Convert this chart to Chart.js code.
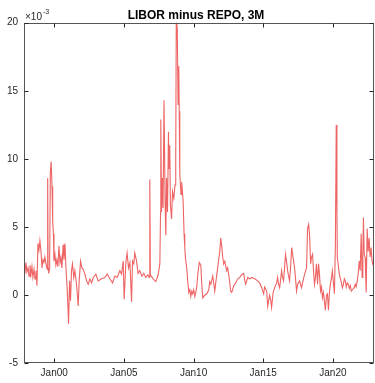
<!DOCTYPE html>
<html>
<head>
<meta charset="utf-8">
<script src="https://cdn.jsdelivr.net/npm/chart.js@4.4.1/dist/chart.umd.min.js"></script>
<style>
  html, body { margin: 0; padding: 0; background: #fff; }
  #wrap { width: 375px; height: 383px; }
</style>
</head>
<body>
<div id="wrap"><canvas id="chart" width="375" height="383"></canvas></div>
<script>
// LIBOR minus REPO, 3M  (values in units of 1e-3)
const dates = [
  1997.83, 1997.90, 1997.97, 1998.04, 1998.12, 1998.19, 1998.26, 1998.33, 1998.40, 1998.47,
  1998.55, 1998.62, 1998.69, 1998.76, 1998.83, 1998.90, 1998.97, 1999.05, 1999.12, 1999.19,
  1999.26, 1999.33, 1999.41, 1999.50, 1999.53, 1999.56, 1999.60, 1999.67, 1999.72, 1999.78,
  1999.84, 1999.89, 1999.94, 1999.98, 2000.05, 2000.12, 2000.19, 2000.26, 2000.34, 2000.41,
  2000.48, 2000.55, 2000.64, 2000.70, 2000.77, 2000.84, 2000.93, 2001.03, 2001.10, 2001.17,
  2001.24, 2001.31, 2001.40, 2001.48, 2001.60, 2001.72, 2001.79, 2001.89, 2001.99, 2002.08,
  2002.20, 2002.32, 2002.44, 2002.56, 2002.68, 2002.80, 2002.99, 2003.15, 2003.40, 2003.63,
  2003.80, 2003.99, 2004.19, 2004.35, 2004.52, 2004.71, 2004.83, 2004.95, 2005.02, 2005.14,
  2005.23, 2005.33, 2005.43, 2005.55, 2005.62, 2005.71, 2005.78, 2005.91, 2006.02, 2006.14,
  2006.29, 2006.43, 2006.57, 2006.72, 2006.82, 2006.86, 2006.90, 2007.10, 2007.29, 2007.46,
  2007.58, 2007.63, 2007.65, 2007.70, 2007.77, 2007.81, 2007.88, 2007.96, 2008.01, 2008.06,
  2008.13, 2008.20, 2008.24, 2008.29, 2008.34, 2008.42, 2008.49, 2008.58, 2008.67, 2008.72,
  2008.76, 2008.83, 2008.89, 2008.94, 2008.97, 2009.01, 2009.06, 2009.10, 2009.15, 2009.20,
  2009.25, 2009.32, 2009.37, 2009.42, 2009.51, 2009.58, 2009.66, 2009.73, 2009.80, 2009.87,
  2009.94, 2010.01, 2010.09, 2010.16, 2010.23, 2010.30, 2010.41, 2010.52, 2010.59, 2010.66,
  2010.80, 2010.95, 2011.09, 2011.16, 2011.24, 2011.38, 2011.52, 2011.59, 2011.73, 2011.88,
  2011.95, 2012.02, 2012.09, 2012.16, 2012.24, 2012.38, 2012.45, 2012.59, 2012.66, 2012.74,
  2012.88, 2013.02, 2013.17, 2013.31, 2013.45, 2013.60, 2013.67, 2013.74, 2013.89, 2014.03,
  2014.17, 2014.39, 2014.60, 2014.74, 2014.89, 2015.03, 2015.10, 2015.25, 2015.32, 2015.46,
  2015.53, 2015.60, 2015.71, 2015.82, 2015.96, 2016.03, 2016.10, 2016.18, 2016.25, 2016.32,
  2016.39, 2016.46, 2016.53, 2016.60, 2016.67, 2016.75, 2016.82, 2016.89, 2016.96, 2017.04,
  2017.11, 2017.18, 2017.25, 2017.32, 2017.39, 2017.47, 2017.61, 2017.75, 2017.89, 2017.97,
  2018.11, 2018.18, 2018.26, 2018.33, 2018.40, 2018.47, 2018.54, 2018.61, 2018.68, 2018.75,
  2018.82, 2018.90, 2018.97, 2019.04, 2019.11, 2019.18, 2019.25, 2019.32, 2019.39, 2019.46,
  2019.54, 2019.61, 2019.68, 2019.75, 2019.82, 2019.89, 2019.96, 2020.04, 2020.11, 2020.18,
  2020.24, 2020.29, 2020.32, 2020.39, 2020.46, 2020.54, 2020.61, 2020.68, 2020.75, 2020.82,
  2020.89, 2020.96, 2021.03, 2021.11, 2021.18, 2021.25, 2021.32, 2021.39, 2021.53, 2021.60,
  2021.67, 2021.75, 2021.82, 2021.89, 2021.96, 2022.03, 2022.10, 2022.15, 2022.19, 2022.25,
  2022.32, 2022.35, 2022.39, 2022.46, 2022.53, 2022.60, 2022.67, 2022.74, 2022.81, 2022.88
];

const spreadE3 = [
  2.2, 1.6, 2.4, 1.7, 2.0, 1.4, 2.2, 1.5, 2.1, 1.3,
  1.9, 1.2, 1.8, 0.7, 3.8, 3.3, 4.0, 3.2, 2.0, 2.6,
  2.4, 2.8, 2.3, 1.9, 8.6, 2.0, 1.6, 2.0, 9.0, 9.8,
  8.0, 5.4, 4.5, 2.5, 3.0, 2.2, 2.6, 2.1, 3.6, 2.4,
  2.8, 2.0, 3.7, 2.6, 3.8, 2.0, 0.5, -2.1, 1.05, -0.4,
  1.8, 2.3, 1.3, 1.8, 0.8, -0.8, 1.05, 2.5, 2.0, 1.9,
  1.55, 1.05, 0.8, 1.2, 0.9, 1.3, 1.55, 1.05, 1.2, 1.3,
  1.55, 1.2, 0.9, 1.4, 1.3, 1.8, 1.55, 2.5, -0.3, 2.4,
  3.1, 2.0, 2.4, -0.5, 2.5, 2.3, 3.1, 2.5, 1.6, 1.8,
  1.4, 1.6, 1.3, 1.5, 1.3, 8.5, 1.5, 1.2, 1.0, 1.5,
  2.3, 6.1, 12.9, 6.1, 8.6, 6.4, 14.3, 6.6, 4.4, 8.6,
  6.1, 12.0, 9.3, 11.0, 6.6, 5.6, 7.6, 7.1, 8.1, 10.0,
  20.5, 19.5, 14.0, 16.8, 13.5, 9.0, 8.0, 7.4, 8.3, 7.6,
  6.9, 4.5, 3.5, 2.7, 2.0, 1.0, 0.2, 0.4, -0.1, 0.3,
  0.1, 0.4, -0.1, 0.2, 0.6, 1.5, 2.4, 2.2, 0.8, -0.2,
  0.0, 0.1, 0.4, 1.0, 0.8, 1.4, 0.3, 0.9, 2.0, 3.2,
  4.2, 3.6, 2.8, 2.3, 2.5, 1.8, 2.0, 1.0, 0.3, 0.2,
  0.7, 0.9, 1.2, 1.3, 1.5, 1.6, 1.1, 0.8, 1.3, 1.2,
  1.3, 1.2, 1.05, 0.9, 0.55, 0.1, 0.6, 0.3, -0.8, 0.0,
  -0.3, -0.9, 0.2, 0.55, 0.9, 1.3, 0.8, 0.55, 1.2, 1.8,
  1.3, 1.05, 2.0, 3.0, 2.5, 1.8, 1.4, 1.05, 2.0, 3.5,
  3.0, 2.5, 2.0, 1.2, 0.3, 0.8, 1.05, 0.55, 1.2, 1.55,
  2.0, 4.9, 5.2, 4.3, 2.3, 2.8, 3.0, 1.8, 0.8, 1.3,
  2.3, 0.8, 2.3, 1.5, 0.3, 0.6, -0.2, 0.2, -0.4, -1.1,
  0.0, 0.1, -1.1, 0.2, 0.8, 1.2, 1.8, 0.9, 0.1, 3.7,
  12.5, 6.0, 2.75, 2.2, 1.55, 1.2, 0.9, 0.55, 0.8, 1.2,
  1.05, 0.6, 0.9, 0.8, 0.5, 0.7, 0.3, 0.4, 0.55, 0.8,
  0.6, 1.05, 1.6, 2.5, 1.8, 4.5, 1.3, 2.8, 5.7, 3.0,
  2.75, 1.5, 0.2, 4.9, 3.2, 4.2, 2.8, 3.5, 2.5, 2.2
];

const xTickYears = [2000, 2005, 2010, 2015, 2020];
const yTickValues = [-5, 0, 5, 10, 15, 20];
const xRange = [1997.83, 2022.95];
const yRange = [-5, 20];

const points = dates.map((d, i) => ({ x: d, y: spreadE3[i] }));

const axisColor = '#262626';
const fontFamily = '"Liberation Sans", Arial, Helvetica, sans-serif';

// matlab-style box, inward ticks, title and exponent label
const framePlugin = {
  id: 'frame',
  afterDraw(chart) {
    const { ctx, chartArea: a } = chart;
    const xs = chart.scales.x, ys = chart.scales.y;
    const L = Math.round(a.left) + 0.5, R = Math.round(a.right) - 0.5;
    const T = Math.round(a.top) + 0.5, B = Math.round(a.bottom) - 0.5;
    ctx.save();
    ctx.strokeStyle = '#555';
    ctx.lineWidth = 1;
    ctx.strokeRect(L, T, R - L, B - T);
    ctx.strokeStyle = axisColor;
    ctx.beginPath();
    xTickYears.forEach(v => {
      const px = Math.round(xs.getPixelForValue(v)) + 0.5;
      ctx.moveTo(px, B); ctx.lineTo(px, B - 4);
      ctx.moveTo(px, T); ctx.lineTo(px, T + 4);
    });
    yTickValues.forEach(v => {
      const py = Math.round(ys.getPixelForValue(v)) + 0.5;
      ctx.moveTo(L, py); ctx.lineTo(L + 4, py);
      ctx.moveTo(R, py); ctx.lineTo(R - 4, py);
    });
    ctx.stroke();

    ctx.fillStyle = '#000';
    ctx.font = 'bold 12px ' + fontFamily;
    ctx.textAlign = 'center';
    ctx.textBaseline = 'alphabetic';
    ctx.fillText('LIBOR minus REPO, 3M', 196, 19);

    ctx.fillStyle = axisColor;
    ctx.textAlign = 'left';
    ctx.font = '10px ' + fontFamily;
    ctx.fillText('\u00d710', 25, 20);
    ctx.font = '7px ' + fontFamily;
    ctx.fillText('-3', 43, 14);
    ctx.restore();
  }
};

new Chart(document.getElementById('chart'), {
  type: 'line',
  data: {
    datasets: [{
      data: points,
      borderColor: '#ee6363',
      borderWidth: 1.1,
      pointRadius: 0,
      tension: 0,
      fill: false
    }]
  },
  options: {
    responsive: false,
    animation: false,
    devicePixelRatio: 1,
    layout: { padding: { top: 22.7, right: 1, left: 0, bottom: 0 } },
    plugins: { legend: { display: false }, tooltip: { enabled: false } },
    scales: {
      x: {
        type: 'linear',
        min: xRange[0],
        max: xRange[1],
        afterBuildTicks: s => { s.ticks = xTickYears.map(v => ({ value: v })); },
        afterFit: s => { s.height = 19.7; },
        grid: { display: false, drawTicks: false },
        border: { display: false },
        ticks: {
          autoSkip: false,
          maxRotation: 0,
          padding: 4,
          color: axisColor,
          font: { family: fontFamily, size: 10 },
          callback: v => 'Jan' + String(v % 100).padStart(2, '0')
        }
      },
      y: {
        min: yRange[0],
        max: yRange[1],
        afterBuildTicks: s => { s.ticks = yTickValues.map(v => ({ value: v })); },
        afterFit: s => { s.width = 24; },
        grid: { display: false, drawTicks: false },
        border: { display: false },
        ticks: {
          padding: 6,
          color: axisColor,
          font: { family: fontFamily, size: 10 }
        }
      }
    }
  },
  plugins: [framePlugin]
});
</script>
</body>
</html>
